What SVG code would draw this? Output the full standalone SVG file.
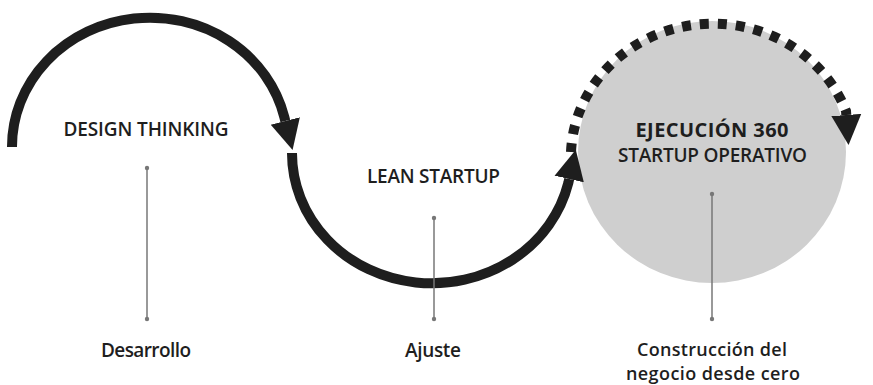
<svg xmlns="http://www.w3.org/2000/svg" width="873" height="385" viewBox="0 0 873 385">
<style>
.t{font-family:"Open Sans","Noto Sans",sans-serif;font-weight:600;font-size:19px;fill:#1e1e1e;text-anchor:middle}
.b{font-weight:700;font-size:20px}
.s{font-size:18px}
.arc{fill:none;stroke:#1e1e1e;stroke-width:10;marker-end:url(#ah)}
.dot{stroke-dasharray:9 9}
.v{stroke:#777;stroke-width:1.5;marker-start:url(#pt);marker-end:url(#pt)}
</style>
<defs>
<marker id="ah" markerUnits="userSpaceOnUse" viewBox="0 -16 32 32" refX="0" refY="0" markerWidth="32" markerHeight="32" orient="auto">
<path d="M0 -15 L30 0 L0 15 z" fill="#1e1e1e"/>
</marker>
<marker id="pt" markerUnits="userSpaceOnUse" viewBox="-3 -3 6 6" markerWidth="6" markerHeight="6" orient="auto">
<circle r="2.2" fill="#777"/>
</marker>
</defs>
<rect width="873" height="385" fill="#ffffff"/>
<g id="ejecucion-circle"><ellipse cx="712" cy="152" rx="134" ry="131" fill="#cfcfcf"/></g>
<g id="connectors">
<path class="arc" d="M12 147 A138 129 0 0 1 284.3 117 L285.3 121"/>
<path class="arc" d="M292 153 A140 130 0 0 0 568.3 183 L569.2 179"/>
<path class="arc dot" d="M571 152 A142 134 0 0 1 846 111 L846.3 115"/>
<line class="v" x1="147" y1="168" x2="147" y2="319"/>
<line class="v" x1="434" y1="218" x2="434" y2="319"/>
<line class="v" x1="712" y1="194" x2="712" y2="319"/>
</g>
<g id="design-thinking"><text class="t" x="146" y="136" textLength="165">DESIGN THINKING</text></g>
<g id="lean-startup"><text class="t" x="433.5" y="183" textLength="133">LEAN STARTUP</text></g>
<g id="ejecucion"><text class="t b" x="712" y="137" textLength="153">EJECUCIÓN 360</text><text class="t" x="712.5" y="162" textLength="189">STARTUP OPERATIVO</text></g>
<g id="desarrollo"><text class="t" x="146" y="357" textLength="90">Desarrollo</text></g>
<g id="ajuste"><text class="t" x="433" y="357" textLength="56">Ajuste</text></g>
<g id="construccion"><text class="t s" x="712" y="356" textLength="150">Construcción del</text><text class="t s" x="713" y="380" textLength="174">negocio desde cero</text></g>
</svg>
